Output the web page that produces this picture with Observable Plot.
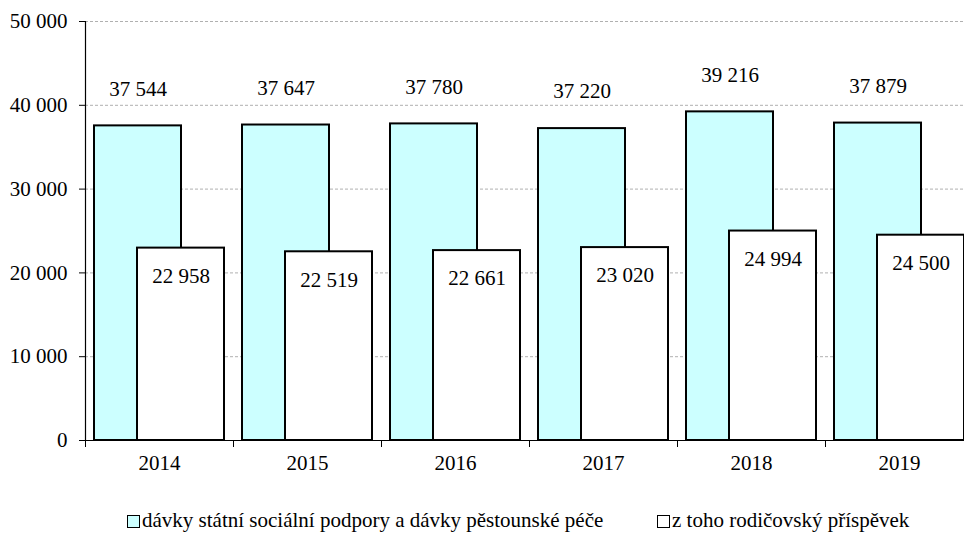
<!DOCTYPE html>
<html>
<head>
<meta charset="utf-8">
<script src="https://cdn.jsdelivr.net/npm/d3@7"></script>
<script src="https://cdn.jsdelivr.net/npm/@observablehq/plot@0.6"></script>
<style>
  html, body { margin: 0; padding: 0; background: white; }
  #wrap { position: relative; width: 964px; height: 534px; overflow: hidden; font-family: 'Liberation Serif', serif; }
  .legtext { position: absolute; top: 508px; font-family: 'Liberation Serif', serif; font-size: 21px; line-height: 24px; white-space: nowrap; color: black; }
  .sw { position: absolute; top: 515px; width: 10.6px; height: 10.6px; border: 1.7px solid black; }
  #chart svg, #chart svg text { font-family: 'Liberation Serif', serif !important; }
</style>
</head>
<body>
<div id="wrap">
  <div id="chart"></div>
  <span class="sw" style="left:127px; background:#CCFFFF"></span>
  <span class="legtext" style="left:142px">dávky státní sociální podpory a dávky pěstounské péče</span>
  <span class="sw" style="left:657px; background:white"></span>
  <span class="legtext" style="left:672px">z toho rodičovský příspěvek</span>
</div>
<script>
const years = ["2014", "2015", "2016", "2017", "2018", "2019"];
const totalBenefits = [37544, 37647, 37780, 37220, 39216, 37879];
const parentalAllowance = [22958, 22519, 22661, 23020, 24994, 24500];
const yTicks = [0, 10000, 20000, 30000, 40000, 50000];

const data = years.map((year, i) => ({ year, total: totalBenefits[i], parental: parentalAllowance[i] }));
const fmt = v => d3.format(",")(v).replace(/,/g, "\u00a0");
const serif = "Liberation Serif";

const chart = Plot.plot({
  width: 964,
  height: 490,
  marginTop: 21,
  marginBottom: 50,
  marginLeft: 85,
  marginRight: 0,
  style: "font-family: 'Liberation Serif', serif; color: black; background: white;",
  x: { type: "band", domain: years, range: [85, 973], padding: 0 },
  y: { domain: [0, 50000], ticks: yTicks },
  marks: [
    Plot.gridY(yTicks, { stroke: "#b0b0b0", strokeOpacity: 1, strokeDasharray: "3,2", strokeWidth: 1 }),
    Plot.barY(data, { x: "year", y: "total", fill: "#CCFFFF", stroke: "black", strokeWidth: 2, insetLeft: 9, insetRight: 52 }),
    Plot.barY(data, { x: "year", y: "parental", fill: "white", stroke: "black", strokeWidth: 2, insetLeft: 52, insetRight: 9 }),
    Plot.text(data, { x: "year", y: "total", text: d => fmt(d.total), dx: -21.5, dy: -37, fontSize: 21, fontFamily: serif, fill: "black" }),
    Plot.text(data, { x: "year", y: "parental", text: d => fmt(d.parental), dx: 21.5, dy: 28, fontSize: 21, fontFamily: serif, fill: "black" }),
    Plot.ruleY([0], { stroke: "black", strokeWidth: 1.2 }),
    Plot.frame({ anchor: "left", stroke: "black", strokeWidth: 1.2 }),
    Plot.axisY({ ticks: yTicks, tickFormat: fmt, tickSize: 6, tickPadding: 12, fontSize: 21, fontFamily: serif, label: null }),
    Plot.axisX({ tickSize: 0, tickPadding: 15, fontSize: 21, fontFamily: serif, label: null }),
    Plot.axisX({ tickSize: 7, tickFormat: () => "", dx: -74, label: null })
  ]
});
document.getElementById("chart").appendChild(chart);
</script>
</body>
</html>
